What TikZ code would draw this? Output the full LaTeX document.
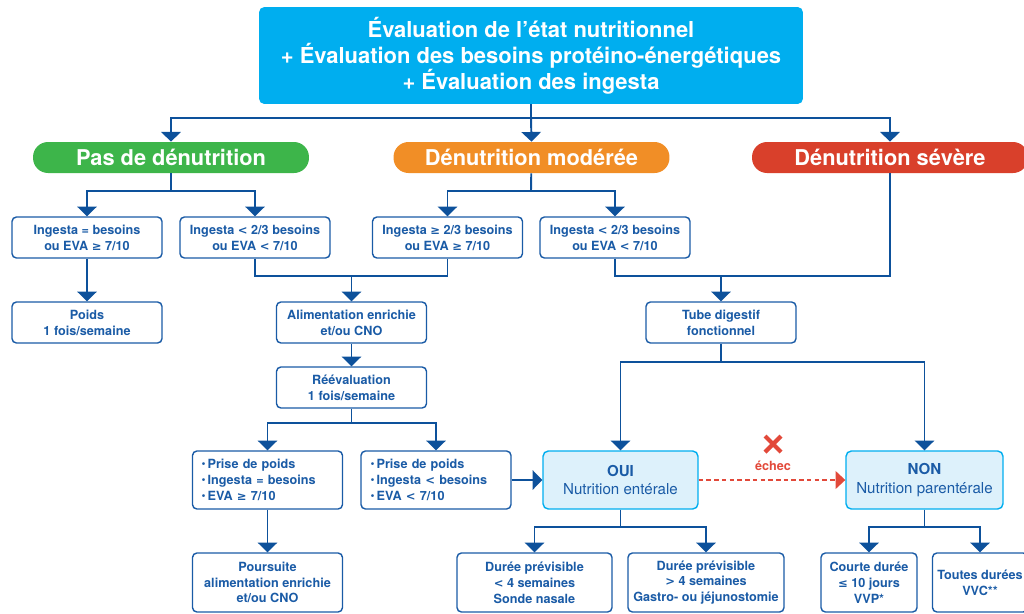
\documentclass[tikz,border=0pt]{standalone}
\usepackage{fontspec}
\setmainfont{TeX Gyre Heros}
\newfontfamily\symfont{DejaVu Sans}[Scale=0.92]
\usepackage{tikz}
\usetikzlibrary{arrows.meta}
\definecolor{cyanhead}{HTML}{00AEEF}
\definecolor{dblue}{HTML}{1A5BA6}
\definecolor{lineblue}{HTML}{0D519B}
\definecolor{pgreen}{HTML}{3DB54A}
\definecolor{porange}{HTML}{F18E26}
\definecolor{pred}{HTML}{D9402B}
\definecolor{paleblue}{HTML}{DDF1FB}
\definecolor{echecred}{HTML}{E2493A}
\newcommand{\geqs}{{\symfont ≥}}
\newcommand{\leqs}{{\symfont ≤}}
\newcommand{\lts}{{\symfont <}}
\newcommand{\gts}{{\symfont >}}
\newcommand{\bul}{\raisebox{0.2ex}{\scalebox{0.9}{\textbullet}}\,}
\tikzset{head/.style={fill=cyanhead,rounded corners=3pt,minimum width=10.88cm,minimum height=1.94cm,text=white,align=center,font=\bfseries\fontsize{12.5}{14.7}\selectfont},
  pill/.style={rounded corners=0.3cm,minimum width=5.52cm,minimum height=0.62cm,inner sep=0pt,text=white,font=\bfseries\fontsize{12.4}{14}\selectfont},
  bx/.style={draw=dblue,line width=0.8pt,rounded corners=2.5pt,fill=white,text=dblue,align=center,inner sep=1pt,minimum width=3cm,minimum height=0.82cm,font=\bfseries\fontsize{7.2}{9}\selectfont},
  nbx/.style={draw=cyanhead,line width=0.8pt,rounded corners=3pt,fill=paleblue,text=dblue,align=center,minimum width=3.1cm,minimum height=1.16cm,font=\fontsize{8.6}{10.8}\selectfont},
  ln/.style={lineblue,line width=1.1pt},
  ar/.style={ln,-{Triangle[width=11pt,length=5.5pt]}},
  dar/.style={echecred,line width=1.1pt,dash pattern=on 2.6pt off 1.8pt,-{Triangle[width=10pt,length=5.5pt]}}}
\begin{document}
\begin{tikzpicture}[x=0.02cm,y=-0.02cm]
\useasboundingbox (0,0) rectangle (1024,613);
% en-tete et niveaux
\node[head] (top) at (531,55.5) {Évaluation de l’état nutritionnel\\+ Évaluation des besoins protéino-énergétiques\\+ Évaluation des ingesta};
\node[pill,fill=pgreen] (pas) at (171,157.5) {Pas de dénutrition};
\node[pill,fill=porange] (mod) at (531.5,157.5) {Dénutrition modérée};
\node[pill,fill=pred] (sev) at (890,157.5) {Dénutrition sévère};
% ingesta
\node[bx] (b1) at (87,237.5) {Ingesta = besoins\\ou EVA \geqs\ 7/10};
\node[bx] (b2) at (255,237.5) {Ingesta \lts\ 2/3 besoins\\ou EVA \lts\ 7/10};
\node[bx] (b3) at (447.5,237.5) {Ingesta \geqs\ 2/3 besoins\\ou EVA \geqs\ 7/10};
\node[bx] (b4) at (615,237.5) {Ingesta \lts\ 2/3 besoins\\ou EVA \lts\ 7/10};
\node[bx] (poids) at (87,322.5) {Poids\\1 fois/semaine};
\node[bx] (alim) at (351.5,322.5) {Alimentation enrichie\\et/ou CNO};
\node[bx] (tube) at (721,322.5) {Tube digestif\\fonctionnel};
\node[bx] (reev) at (351.5,387.5) {Réévaluation\\1 fois/semaine};
\node[bx,align=left,text width=2.64cm,inner xsep=0.17cm,minimum height=1.16cm] (p1) at (267.5,480) {\bul Prise de poids\\\bul Ingesta = besoins\\\bul EVA \geqs\ 7/10};
\node[bx,align=left,text width=2.62cm,inner xsep=0.16cm,minimum height=1.16cm] (p2) at (436,480) {\bul Prise de poids\\\bul Ingesta \lts\ besoins\\\bul EVA \lts\ 7/10};
\node[nbx] (oui) at (620.5,480) {\textbf{OUI}\\Nutrition entérale};
\node[nbx,minimum width=3.14cm] (non) at (924.5,480) {\textbf{NON}\\Nutrition parentérale};
% bas
\node[bx,minimum height=1.18cm] (pours) at (267.5,582.5) {Poursuite\\alimentation enrichie\\et/ou CNO};
\node[bx,minimum width=3.1cm,minimum height=1.18cm] (d1) at (534.5,582.5) {Durée prévisible\\\lts\ 4 semaines\\Sonde nasale};
\node[bx,minimum width=3.12cm,minimum height=1.18cm] (d2) at (706,582.5) {Durée prévisible\\\gts\ 4 semaines\\Gastro- ou jéjunostomie};
\node[bx,minimum width=1.92cm,minimum height=1.18cm] (c1) at (869,582.5) {Courte durée\\\leqs\ 10 jours\\VVP*};
\node[bx,minimum width=1.9cm,minimum height=1.18cm] (c2) at (980,582.5) {Toutes durées\\VVC**};
% connecteurs
\coordinate (j0) at (531,118); \coordinate (j1) at (171,191); \coordinate (j2) at (531,191);
\coordinate (j3) at (351.5,276); \coordinate (j4) at (721,276); \coordinate (j5) at (351.5,423);
\coordinate (j6) at (721,362); \coordinate (j7) at (620.5,527); \coordinate (j8) at (924.5,527);
\draw[ln] (top) -- (j0); \draw[ar] (j0) -| (pas.north); \draw[ar] (j0) -- (mod.north); \draw[ar] (j0) -| (sev.north);
\draw[ln] (pas) -- (j1); \draw[ar] (j1) -| (b1.north); \draw[ar] (j1) -| (b2.north);
\draw[ln] (mod) -- (j2); \draw[ar] (j2) -| (b3.north); \draw[ar] (j2) -| (b4.north);
\draw[ar] (b1) -- (poids);
\draw[ln] (b2.south) |- (j3); \draw[ln] (b3.south) |- (j3); \draw[ar] (j3) -- (alim);
\draw[ln] (b4.south) |- (j4); \draw[ln] (sev.south) |- (j4); \draw[ar] (j4) -- (tube);
\draw[ar] (alim) -- (reev);
\draw[ln] (reev) -- (j5); \draw[ar] (j5) -| (p1.north); \draw[ar] (j5) -| (p2.north);
\draw[ar] (p1) -- (pours);
\draw[ar] (p2) -- (oui);
\draw[ln] (tube) -- (j6); \draw[ar] (j6) -| (oui.north); \draw[ar] (j6) -| (non.north);
\draw[ln] (oui) -- (j7); \draw[ar] (j7) -| (d1.north); \draw[ar] (j7) -| (d2.north);
\draw[ln] (non) -- (j8); \draw[ar] (j8) -| (c1.north); \draw[ar] (j8) -| (c2.north);
% echec
\draw[dar] (oui) -- (non);
\draw[echecred,line width=2.4pt] (765,436) -- (781,452) (781,436) -- (765,452);
\node[text=echecred,font=\bfseries\fontsize{7.2}{9}\selectfont] (echec) at (773,466) {échec};
\end{tikzpicture}
\end{document}
